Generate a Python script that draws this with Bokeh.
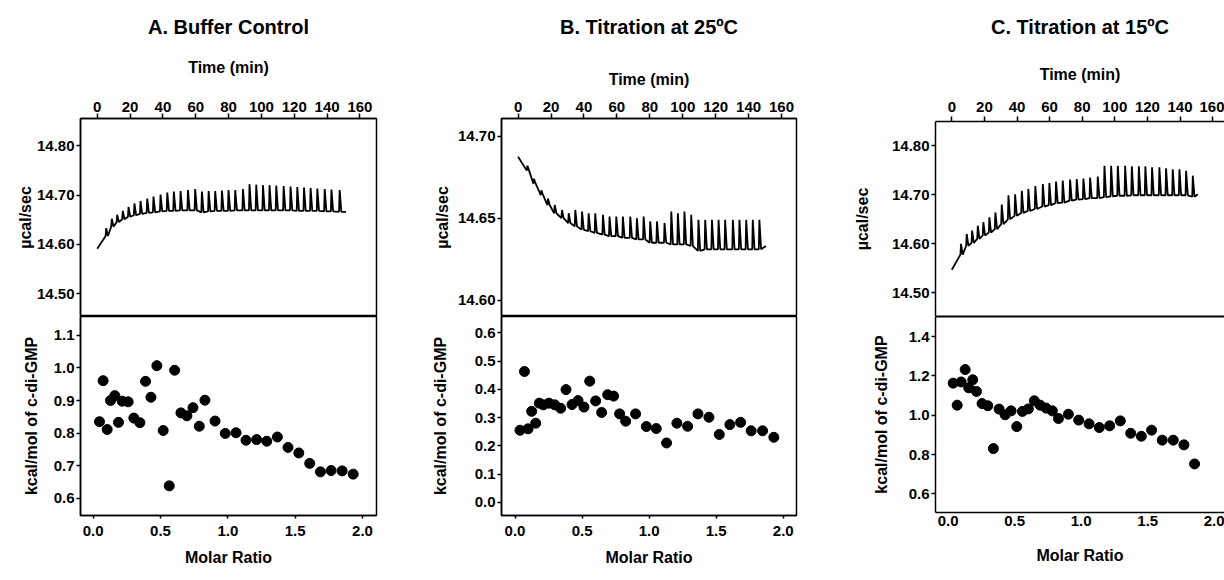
from bokeh.plotting import figure
from bokeh.layouts import row, column
from bokeh.models import Range1d, FixedTicker, LinearAxis, PrintfTickFormatter
from bokeh.embed import file_html
from bokeh.resources import INLINE

FONT = "Liberation Sans"

# ---------------- data ----------------
# Panel A: buffer control
A_title = "A. Buffer Control"
A_start = [0.0, 14.591]
A_end = [151.5, 14.666]
A_inj_t = [5.1, 8.5, 11.8, 15.2, 18.7, 22.3, 26.0, 30.1, 33.9, 38.2, 42.3, 46.3, 50.4, 54.9, 59.3, 63.4, 67.5, 71.5,
           75.6, 79.6, 83.7, 88.4, 92.4, 96.5, 100.6, 104.6, 108.7, 113.2, 117.4, 121.5, 125.6, 129.6, 133.7, 138.2,
           142.3, 147.3]
A_base = [14.617, 14.636, 14.645, 14.651, 14.656, 14.659, 14.662, 14.664, 14.665, 14.667, 14.668, 14.668, 14.669,
          14.669, 14.669, 14.665, 14.667, 14.668, 14.668, 14.668, 14.669, 14.669, 14.669, 14.669, 14.669, 14.669,
          14.669, 14.669, 14.669, 14.668, 14.668, 14.668, 14.668, 14.667, 14.667, 14.666]
A_peak = [14.633, 14.652, 14.660, 14.668, 14.676, 14.683, 14.688, 14.693, 14.697, 14.701, 14.705, 14.707, 14.708,
          14.710, 14.712, 14.707, 14.708, 14.708, 14.709, 14.710, 14.710, 14.712, 14.722, 14.721, 14.720, 14.720,
          14.719, 14.718, 14.717, 14.716, 14.715, 14.714, 14.713, 14.712, 14.711, 14.710]
A_ratio = [0.047, 0.074, 0.104, 0.129, 0.161, 0.188, 0.216, 0.260, 0.302, 0.347, 0.389, 0.429, 0.473, 0.520, 0.565,
           0.605, 0.652, 0.696, 0.741, 0.788, 0.830, 0.905, 0.981, 1.061, 1.135, 1.214, 1.289, 1.368, 1.447, 1.527,
           1.608, 1.688, 1.767, 1.849, 1.931]
A_heat = [0.835, 0.961, 0.811, 0.900, 0.915, 0.833, 0.898, 0.896, 0.846, 0.832, 0.959, 0.910, 1.007, 0.808, 0.638,
          0.993, 0.862, 0.853, 0.878, 0.821, 0.901, 0.837, 0.799, 0.801, 0.778, 0.780, 0.775, 0.788, 0.756, 0.739,
          0.707, 0.681, 0.685, 0.684, 0.674]
A_top_yticks = [14.50, 14.60, 14.70, 14.80]
A_bot_yticks = [0.6, 0.7, 0.8, 0.9, 1.0, 1.1]

# Panel B: titration at 25 C
B_title = "B. Titration at 25ºC"
B_start = [0.0, 14.6874]
B_end = [150.5, 14.633]
B_inj_t = [5.3, 9.3, 13.8, 17.8, 21.9, 26.3, 30.4, 34.4, 38.5, 42.5, 46.5, 51.2, 55.2, 59.3, 63.3, 67.8, 71.8, 75.9,
           79.9, 84.0, 88.6, 92.7, 96.7, 100.7, 104.8, 109.2, 113.3, 117.4, 121.4, 125.4, 130.1, 134.1, 138.2, 142.2,
           146.2]
B_base = [14.679, 14.671, 14.664, 14.658, 14.653, 14.650, 14.647, 14.645, 14.643, 14.642, 14.641, 14.640, 14.639,
          14.639, 14.638, 14.638, 14.637, 14.637, 14.635, 14.635, 14.635, 14.634, 14.634, 14.634, 14.633, 14.630,
          14.631, 14.631, 14.631, 14.631, 14.631, 14.631, 14.631, 14.631, 14.631]
B_peak = [14.682, 14.674, 14.667, 14.662, 14.658, 14.655, 14.653, 14.655, 14.654, 14.653, 14.653, 14.652, 14.651,
          14.651, 14.651, 14.651, 14.650, 14.651, 14.648, 14.648, 14.647, 14.654, 14.653, 14.654, 14.652, 14.649,
          14.649, 14.649, 14.649, 14.649, 14.649, 14.649, 14.649, 14.649, 14.649]
B_ratio = [0.037, 0.070, 0.097, 0.124, 0.154, 0.181, 0.211, 0.253, 0.296, 0.340, 0.380, 0.425, 0.470, 0.514, 0.557,
           0.601, 0.646, 0.691, 0.735, 0.780, 0.825, 0.899, 0.979, 1.053, 1.130, 1.207, 1.287, 1.364, 1.446, 1.523,
           1.602, 1.682, 1.761, 1.846, 1.930]
B_heat = [0.255, 0.463, 0.260, 0.322, 0.280, 0.351, 0.345, 0.351, 0.345, 0.333, 0.399, 0.346, 0.360, 0.337, 0.429,
          0.359, 0.318, 0.381, 0.376, 0.313, 0.287, 0.313, 0.268, 0.261, 0.210, 0.280, 0.269, 0.313, 0.301, 0.240,
          0.275, 0.283, 0.253, 0.253, 0.230]
B_top_yticks = [14.60, 14.65, 14.70]
B_bot_yticks = [0.0, 0.1, 0.2, 0.3, 0.4, 0.5, 0.6]

# Panel C: titration at 15 C
C_title = "C. Titration at 15ºC"
C_start = [0.0, 14.547]
C_end = [151.0, 14.701]
C_inj_t = [5.3, 8.8, 12.1, 15.6, 19.0, 22.7, 26.4, 30.3, 34.4, 38.5, 42.6, 46.6, 50.9, 55.5, 59.5, 63.6, 67.7, 72.2,
           76.3, 80.4, 84.5, 89.2, 93.3, 97.4, 101.5, 106.0, 110.1, 114.4, 118.4, 122.5, 127.0, 131.1, 135.2, 139.3,
           143.4, 147.5]
C_base = [14.578, 14.596, 14.602, 14.610, 14.617, 14.623, 14.630, 14.640, 14.650, 14.657, 14.663, 14.667, 14.671,
          14.676, 14.679, 14.683, 14.684, 14.688, 14.690, 14.691, 14.693, 14.693, 14.695, 14.697, 14.698, 14.698,
          14.699, 14.699, 14.699, 14.699, 14.699, 14.699, 14.699, 14.699, 14.699, 14.696]
C_peak = [14.600, 14.620, 14.627, 14.637, 14.644, 14.654, 14.664, 14.680, 14.699, 14.701, 14.708, 14.712, 14.718,
          14.722, 14.724, 14.727, 14.729, 14.731, 14.732, 14.733, 14.735, 14.737, 14.759, 14.759, 14.759, 14.759,
          14.758, 14.758, 14.758, 14.756, 14.756, 14.754, 14.752, 14.752, 14.749, 14.739]
C_ratio = [0.038, 0.068, 0.098, 0.128, 0.155, 0.185, 0.213, 0.255, 0.298, 0.340, 0.383, 0.428, 0.473, 0.516, 0.558,
           0.603, 0.648, 0.691, 0.736, 0.783, 0.829, 0.904, 0.981, 1.059, 1.136, 1.214, 1.294, 1.372, 1.452, 1.529,
           1.609, 1.692, 1.772, 1.852]
C_heat = [1.163, 1.051, 1.169, 1.232, 1.139, 1.180, 1.121, 1.059, 1.048, 0.830, 1.031, 1.002, 1.022, 0.942, 1.019,
          1.032, 1.073, 1.051, 1.036, 1.022, 0.983, 1.005, 0.975, 0.956, 0.937, 0.946, 0.971, 0.908, 0.893, 0.924,
          0.873, 0.873, 0.849, 0.752]
C_top_yticks = [14.50, 14.60, 14.70, 14.80]
C_bot_yticks = [0.6, 0.8, 1.0, 1.2, 1.4]

time_ticks = [0, 20, 40, 60, 80, 100, 120, 140, 160]
ratio_ticks = [0.0, 0.5, 1.0, 1.5, 2.0]
top_ylabel = "µcal/sec"
bot_ylabel = "kcal/mol of c-di-GMP"
top_xlabel = "Time (min)"
bot_xlabel = "Molar Ratio"


def trace(start, end, inj_t, base, peak):
    xs, ys = [start[0]], [start[1]]
    for i in range(len(inj_t)):
        xs += [inj_t[i], inj_t[i] + 0.35, inj_t[i] + 1.4]
        ys += [base[i], peak[i], base[i]]
    xs.append(end[0])
    ys.append(end[1])
    return xs, ys


def style_axis(ax, ticks, fmt, tick_out, lab_standoff, axlab_standoff):
    ax.ticker = FixedTicker(ticks=ticks)
    ax.formatter = PrintfTickFormatter(format=fmt)
    for k in ("major_label", "axis_label"):
        setattr(ax, k + "_text_font", FONT)
        setattr(ax, k + "_text_font_style", "bold")
        setattr(ax, k + "_text_color", "black")
    ax.major_label_text_font_size = "15px"
    ax.axis_label_text_font_size = "16px"
    ax.axis_line_color = "black"
    ax.axis_line_width = 1.5
    ax.major_tick_line_color = "black"
    ax.major_tick_line_width = 1.5
    ax.major_tick_out = tick_out
    ax.major_tick_in = 0
    ax.minor_tick_line_color = None
    ax.major_label_standoff = lab_standoff
    ax.axis_label_standoff = axlab_standoff


def line_axis(p, side):
    ax = LinearAxis(ticker=FixedTicker(ticks=[]), major_tick_out=0, major_tick_in=0,
                    major_label_standoff=0, major_label_text_font_size="0px",
                    axis_line_color="black", axis_line_width=2, minor_tick_line_color=None)
    p.add_layout(ax, side)


def title_axis(p, text, standoff):
    # an axis with no ticks that only carries the panel title above "Time (min)"
    ax = LinearAxis(ticker=FixedTicker(ticks=[]), major_tick_out=0, major_tick_in=0,
                    major_label_standoff=0, major_label_text_font_size="0px",
                    axis_line_color=None, minor_tick_line_color=None,
                    axis_label=text, axis_label_standoff=standoff,
                    axis_label_text_font=FONT, axis_label_text_font_style="bold",
                    axis_label_text_font_size="20px", axis_label_text_color="black")
    p.add_layout(ax, "above")


def panel(cfg):
    top = figure(width=cfg["w"], height=316, x_range=Range1d(*cfg["tx"]), y_range=Range1d(*cfg["ty"]),
                 x_axis_location="above", output_backend="svg", toolbar_location=None,
                 min_border_left=cfg["bl"], min_border_right=cfg["br"], min_border_top=cfg["bt"],
                 min_border_bottom=0)
    xs, ys = trace(cfg["start"], cfg["end"], cfg["inj_t"], cfg["base"], cfg["peak"])
    top.line(xs, ys, line_color="black", line_width=1.8)
    style_axis(top.xaxis[0], time_ticks, "%d", 5, cfg["tls"], cfg["xlab_s"])
    top.xaxis[0].axis_label = top_xlabel
    style_axis(top.yaxis[0], cfg["tyt"], "%.2f", 4, 2, cfg["tylab_s"])
    top.yaxis[0].axis_label = top_ylabel
    title_axis(top, cfg["title"], cfg["tstand"])

    bot = figure(width=cfg["w"], height=264, x_range=Range1d(*cfg["bx"]), y_range=Range1d(*cfg["by"]),
                 output_backend="svg", toolbar_location=None,
                 min_border_left=cfg["bl"], min_border_right=cfg["br"], min_border_top=0,
                 min_border_bottom=cfg["bb"])
    bot.scatter(cfg["ratio"], cfg["heat"], size=10, color="black")
    style_axis(bot.xaxis[0], ratio_ticks, "%.1f", cfg["btick"], cfg["bls"], cfg["bxlab_s"])
    bot.xaxis[0].axis_label = bot_xlabel
    style_axis(bot.yaxis[0], cfg["byt"], "%.1f", 4, 2, cfg["bylab_s"])
    bot.yaxis[0].axis_label = bot_ylabel

    for f in (top, bot):
        f.xgrid.visible = False
        f.ygrid.visible = False
        f.background_fill_color = "white"
        f.border_fill_color = "white"
        if cfg["outline"]:
            f.outline_line_color = "black"
            f.outline_line_width = 1.5
            f.outline_line_alpha = 1.0
        else:
            f.outline_line_color = None
    if not cfg["outline"]:
        line_axis(top, "below")
        line_axis(bot, "above")
    return column(top, bot, spacing=0)


cfgA = dict(w=400, bl=80, br=24, bt=118, bb=65, title=A_title, tstand=18, tls=2, xlab_s=23, tylab_s=0,
            tx=(-10.2, 170.1), ty=(14.454, 14.855), bx=(-0.094, 2.104), by=(0.547, 1.158),
            start=A_start, end=A_end, inj_t=A_inj_t, base=A_base, peak=A_peak, ratio=A_ratio, heat=A_heat,
            tyt=A_top_yticks, byt=A_bot_yticks, btick=3, bls=7, bxlab_s=10, bylab_s=11, outline=True)
cfgB = dict(w=410, bl=101, br=14, bt=118, bb=65, title=B_title, tstand=30, tls=2, xlab_s=11, tylab_s=4,
            tx=(-10.07, 169.1), ty=(14.590, 14.7108), bx=(-0.101, 2.099), by=(-0.047, 0.658),
            start=B_start, end=B_end, inj_t=B_inj_t, base=B_base, peak=B_peak, ratio=B_ratio, heat=B_heat,
            tyt=B_top_yticks, byt=B_bot_yticks, btick=3, bls=7, bxlab_s=10, bylab_s=23, outline=True)
cfgC = dict(w=414, bl=125, br=0, bt=121, bb=68, title=C_title, tstand=25, tls=5, xlab_s=16, tylab_s=18,
            tx=(-10.0, 167.3), ty=(14.4517, 14.8495), bx=(-0.095, 2.077), by=(0.505, 1.502),
            start=C_start, end=C_end, inj_t=C_inj_t, base=C_base, peak=C_peak, ratio=C_ratio, heat=C_heat,
            tyt=C_top_yticks, byt=C_bot_yticks, btick=0, bls=3, bxlab_s=18, bylab_s=16, outline=False)

layout = row(panel(cfgA), panel(cfgB), panel(cfgC), spacing=0)

open("out.html", "w").write(file_html(layout, INLINE))
